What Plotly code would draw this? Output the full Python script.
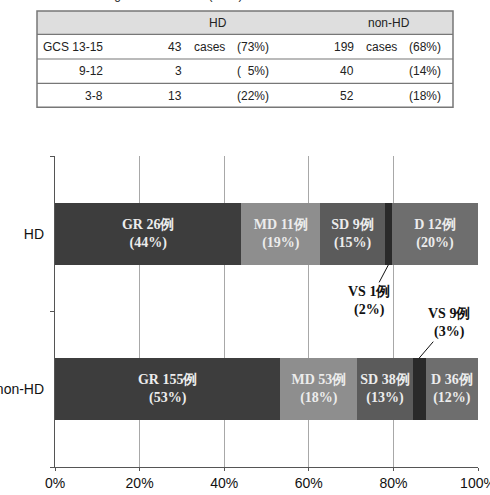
import plotly.graph_objects as go

# ---------------- data ----------------
groups = ["HD", "non-HD"]
outcomes = ["GR", "MD", "SD", "VS", "D"]
hd_counts = [26, 11, 9, 1, 12]
nonhd_counts = [155, 53, 38, 9, 36]
colors = ["#3d3d3d", "#8e8e8e", "#5b5b5b", "#2a2a2a", "#6e6e6e"]

gcs_labels = ["GCS 13-15", "9-12", "3-8"]
tbl_hd_cases = [43, 3, 13]
tbl_hd_pct = [73, 5, 22]
tbl_nonhd_cases = [199, 40, 52]
tbl_nonhd_pct = [68, 14, 18]
caption = "Table 3   Glasgow Coma Scale (GCS) score on admission"
x_ticks = [0, 20, 40, 60, 80, 100]

# ---------------- geometry ----------------
W, H = 490, 495
L, R, T, B = 55, 12, 156, 28
PW, PH = W - L - R, H - T - B


def xp(px):
    return (px - L) / PW


def yp(py):
    return (H - B - py) / PH


totals = {"HD": sum(hd_counts), "non-HD": sum(nonhd_counts)}
counts = {"HD": hd_counts, "non-HD": nonhd_counts}
pct = {g: [c / totals[g] * 100 for c in counts[g]] for g in groups}

fig = go.Figure()
serif = "Liberation Serif, Times New Roman, serif"
for i, o in enumerate(outcomes):
    xs = [counts[g][i] for g in groups]
    texts = []
    for g in groups:
        if o == "VS":
            texts.append("")
        else:
            texts.append(f"<b>{o} {counts[g][i]}例<br>({round(pct[g][i])}%)</b>")
    fig.add_trace(go.Bar(
        y=groups, x=xs, orientation="h", name=o,
        marker=dict(color=colors[i], line=dict(width=0)),
        width=0.4, text=texts, textposition="inside", textangle=0,
        insidetextanchor="middle", constraintext="none",
        textfont=dict(family=serif, size=14, color="#ececec"),
        hoverinfo="skip",
    ))

# VS call-outs with leader lines (arrow tip on the bar edge; bar width 0.4)
vs_i = outcomes.index("VS")
cat_pos = {"non-HD": 0, "HD": 1}
for g, dy, ax, ay in [("HD", -0.2, -19, 36), ("non-HD", 0.2, 30, -35)]:
    start = sum(pct[g][:vs_i])
    mid = start + pct[g][vs_i] / 2
    fig.add_annotation(
        x=mid, y=cat_pos[g] + dy, xref="x", yref="y",
        text=f"<b>VS {counts[g][vs_i]}例<br>({round(pct[g][vs_i])}%)</b>",
        showarrow=True, arrowhead=0, arrowwidth=1, arrowcolor="#111",
        ax=ax, ay=ay, standoff=0, startstandoff=0,
        font=dict(family=serif, size=14, color="#111"),
    )

# ---------------- table (shapes + text) ----------------
tx0, tx1 = 37, 453
ty_top, ty_head, ty_r1, ty_r2, ty_bot = 11, 34.3, 59, 83.3, 107.3
shapes = []
shapes.append(dict(type="rect", xref="paper", yref="paper",
                   x0=xp(tx0), x1=xp(tx1), y0=yp(ty_head), y1=yp(ty_top),
                   fillcolor="#dedede", line=dict(width=0), layer="above"))
for yy in [ty_head, ty_r1, ty_r2]:
    shapes.append(dict(type="line", xref="paper", yref="paper",
                       x0=xp(tx0), x1=xp(tx1), y0=yp(yy), y1=yp(yy),
                       line=dict(color="#777", width=1.2)))
shapes.append(dict(type="rect", xref="paper", yref="paper",
                   x0=xp(tx0), x1=xp(tx1), y0=yp(ty_bot), y1=yp(ty_top),
                   line=dict(color="#777", width=1.5), fillcolor="rgba(0,0,0,0)"))

sans = "Liberation Sans, Arial, sans-serif"
tfont = dict(family=sans, size=12, color="#222")


def ttext(px, py, s, anchor):
    fig.add_annotation(x=xp(px), y=yp(py), xref="paper", yref="paper",
                       text=s, showarrow=False, xanchor=anchor, yanchor="middle",
                       font=tfont)


ttext(218.3, 23.5, "HD", "center")
ttext(389.3, 23.5, "non-HD", "center")
row_y = [47, 71.5, 96]
for k in range(3):
    ttext(104.5, row_y[k], gcs_labels[k], "right")
    ttext(183.5, row_y[k], str(tbl_hd_cases[k]), "right")
    ttext(270.5, row_y[k], f"({tbl_hd_pct[k]:\u2007>2}%)", "right")
    ttext(355.5, row_y[k], str(tbl_nonhd_cases[k]), "right")
    ttext(442.5, row_y[k], f"({tbl_nonhd_pct[k]}%)", "right")
    if k == 0:
        ttext(191.5, row_y[k], "cases", "left")
        ttext(363.5, row_y[k], "cases", "left")

fig.add_annotation(x=xp(39), y=yp(4), xref="paper", yref="paper",
                   text=caption, showarrow=False, xanchor="left", yanchor="bottom",
                   font=dict(family=sans, size=12, color="#222"))

fig.update_layout(
    width=W, height=H, barmode="stack", barnorm="percent",
    margin=dict(l=L, r=R, t=T, b=B, autoexpand=False),
    paper_bgcolor="white", plot_bgcolor="white",
    showlegend=False, shapes=shapes,
    font=dict(family=sans, size=14, color="#111"),
)
fig.update_xaxes(
    range=[0, 100], tickvals=x_ticks, ticktext=[f"{v}%" for v in x_ticks],
    showgrid=True, gridcolor="#a8a8a8", gridwidth=1, zeroline=False,
    showline=True, linecolor="#555", linewidth=1.2,
    ticks="outside", ticklen=3, tickcolor="#555",
    ticklabeloverflow="allow",
    tickfont=dict(family=sans, size=14, color="#111"),
)
fig.update_yaxes(
    type="category", categoryorder="array", categoryarray=["non-HD", "HD"],
    range=[-0.5, 1.5], showgrid=False, zeroline=False,
    showline=True, linecolor="#555", linewidth=1.2,
    ticks="outside", ticklen=4, tickcolor="#555", tickson="boundaries",
    ticklabelstandoff=7, ticklabeloverflow="allow",
    tickfont=dict(family=sans, size=14, color="#111"),
)

fig.write_html("out.html")
